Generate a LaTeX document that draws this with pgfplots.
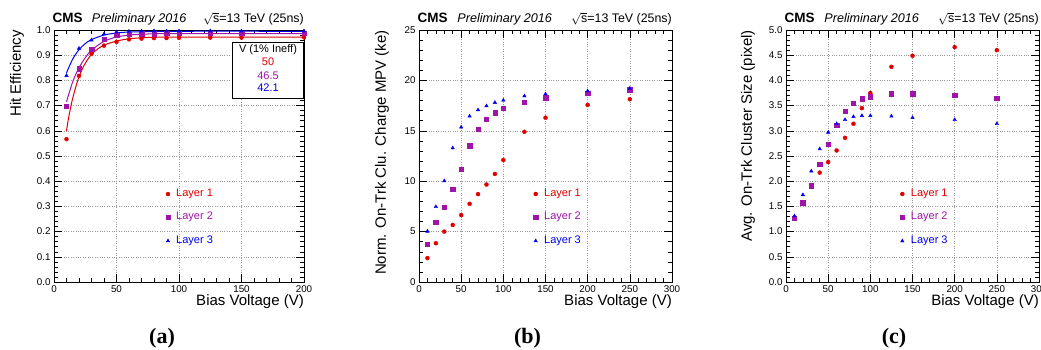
\documentclass[border=0pt]{standalone}
\usepackage{pgfplots}
\pgfplotsset{compat=1.18}
\usepackage{fontspec}
\setmainfont{Liberation Sans}
\newfontfamily\seriffont{Liberation Serif}
\definecolor{cred}{RGB}{225,0,0}
\definecolor{cpur}{RGB}{160,20,170}
\definecolor{cblue}{RGB}{0,0,240}

\tikzset{lay/.style={anchor=west, inner sep=0pt, font=\fontsize{11}{12}\selectfont}}
\pgfplotsset{
  rootstyle/.style={
    scale only axis, height=252pt,
    tick align=inside, major tick length=8pt, minor tick length=4pt,
    xtick pos=both, ytick pos=both,
    grid=major, grid style={dotted, gray!80, line width=0.5pt},
    tick label style={font=\fontsize{9.8}{10}\selectfont},
    /pgf/number format/assume math mode=true,
    label style={font=\fontsize{15}{16}\selectfont, inner sep=0pt},
    xlabel style={at={(axis description cs:1,-0.079)}, anchor=east},
    axis line style={line width=0.7pt},
    every tick/.style={black, line width=0.5pt},
    minor x tick num=4, minor y tick num=4,
    clip=false,
  },
  r/.style={only marks, mark=*, mark size=2pt, color=cred},
  p/.style={only marks, mark=square*, mark size=2.2pt, color=cpur},
  b/.style={only marks, mark=triangle*, mark size=2pt, color=cblue},
}
\newcommand{\cmshead}{%
  \node[inner sep=0pt, anchor=base west, font=\bfseries\fontsize{13.5}{14}\selectfont] at (axis description cs:-0.006,1.028) {CMS};
  \node[inner sep=0pt, anchor=base west, font=\itshape\fontsize{12.6}{13}\selectfont] at (axis description cs:0.151,1.028) {Preliminary 2016};
  \node[inner sep=0pt, anchor=base east, font=\fontsize{12.4}{13}\selectfont] at (axis description cs:1,1.028) {$\sqrt{\mbox{s}}$=13 TeV (25ns)};
}

\begin{document}
\begin{tikzpicture}
\useasboundingbox (0,0) rectangle (1041pt,349pt);

% ---------------- (a)
\begin{axis}[rootstyle, width=250pt, at={(54pt,67pt)}, anchor=south west,
  xmin=0, xmax=200, ymin=0, ymax=1,
  xtick={0,50,...,200}, ytick={0,0.1,...,1.0},
  yticklabel style={/pgf/number format/.cd, fixed, fixed zerofill, precision=1},
  xlabel={Bias Voltage (V)}, ylabel={Hit Efficiency},
  ylabel style={at={(axis description cs:-0.148,1)}, anchor=east},
]
\addplot[cred, line width=1pt, smooth] coordinates {(10,0.60) (12,0.66) (15,0.73) (20,0.815) (25,0.868) (30,0.903) (35,0.925) (40,0.940) (50,0.956) (60,0.965) (70,0.969) (80,0.971) (100,0.972) (200,0.972)};
\addplot[cpur, line width=1pt, smooth] coordinates {(10,0.715) (15,0.795) (20,0.85) (25,0.89) (30,0.92) (40,0.955) (50,0.972) (60,0.980) (70,0.983) (80,0.985) (100,0.986) (200,0.986)};
\addplot[cblue, line width=1pt, smooth] coordinates {(10,0.83) (15,0.885) (20,0.922) (25,0.946) (30,0.962) (40,0.980) (50,0.988) (60,0.992) (80,0.994) (100,0.995) (200,0.995)};
\addplot[r] coordinates {(10,0.567) (20,0.818) (30,0.906) (40,0.938) (50,0.953) (60,0.963) (70,0.966) (80,0.968) (90,0.968) (100,0.969) (125,0.970) (150,0.970) (200,0.971)};
\addplot[p] coordinates {(10,0.697) (20,0.847) (30,0.923) (40,0.963) (50,0.979) (60,0.984) (70,0.986) (80,0.986) (90,0.987) (100,0.987) (125,0.987) (150,0.987) (200,0.987)};
\addplot[b] coordinates {(10,0.819) (20,0.927) (30,0.960) (40,0.984) (50,0.992) (60,0.995) (70,0.996) (80,0.996) (90,0.996) (100,0.996) (125,0.996) (150,0.996) (200,0.996)};
\addplot[r] coordinates {(91.2,0.349)};
\addplot[p] coordinates {(91.2,0.258)};
\addplot[b] coordinates {(91.2,0.163)};
\node[lay, text=cred] at (axis cs:97.6,0.349) {Layer 1};
\node[lay, text=cpur] at (axis cs:97.6,0.258) {Layer 2};
\node[lay, text=cblue] at (axis cs:97.6,0.163) {Layer 3};
\draw[fill=white, line width=0.5pt] (axis description cs:0.712,0.730) rectangle (axis description cs:0.996,0.952);
\node[font=\fontsize{11}{12}\selectfont] at (axis description cs:0.856,0.921) {V (1\% Ineff)};
\node[text=cred, font=\fontsize{11}{12}\selectfont] at (axis description cs:0.856,0.873) {50};
\node[text=cpur, font=\fontsize{11}{12}\selectfont] at (axis description cs:0.856,0.817) {46.5};
\node[text=cblue, font=\fontsize{11}{12}\selectfont] at (axis description cs:0.856,0.770) {42.1};
\cmshead
\end{axis}

% ---------------- (b)
\begin{axis}[rootstyle, width=253pt, at={(419pt,67pt)}, anchor=south west,
  xmin=0, xmax=300, ymin=0, ymax=25,
  xtick={0,50,...,300}, ytick={0,5,...,25},
  xlabel={Bias Voltage (V)}, ylabel={Norm. On-Trk Clu. Charge MPV (ke)},
  ylabel style={at={(axis description cs:-0.146,1)}, anchor=east},
]
\addplot[r] coordinates {(10,2.37) (20,3.85) (30,5.0) (40,5.66) (50,6.64) (60,7.76) (70,8.72) (80,9.67) (90,10.72) (100,12.1) (125,14.9) (150,16.3) (200,17.57) (250,18.13)};
\addplot[p] coordinates {(10,3.75) (20,5.95) (30,7.4) (40,9.18) (50,11.18) (60,13.52) (70,15.16) (80,16.18) (90,16.78) (100,17.24) (125,17.86) (150,18.29) (200,18.72) (250,19.08)};
\addplot[b] coordinates {(10,5.03) (20,7.47) (30,10.03) (40,13.29) (50,15.36) (60,16.45) (70,17.07) (80,17.47) (90,17.8) (100,18.03) (125,18.45) (150,18.65) (200,18.95) (250,19.21)};
\addplot[r] coordinates {(138.4,8.73)};
\addplot[p] coordinates {(138.4,6.45)};
\addplot[b] coordinates {(138.4,4.07)};
\node[lay, text=cred] at (axis cs:148.2,8.73) {Layer 1};
\node[lay, text=cpur] at (axis cs:148.2,6.45) {Layer 2};
\node[lay, text=cblue] at (axis cs:148.2,4.07) {Layer 3};
\cmshead
\end{axis}

% ---------------- (c)
\begin{axis}[rootstyle, width=253pt, at={(786pt,67pt)}, anchor=south west,
  xmin=0, xmax=300, ymin=0, ymax=5,
  xtick={0,50,...,300}, ytick={0,0.5,...,5.0},
  yticklabel style={/pgf/number format/.cd, fixed, fixed zerofill, precision=1},
  xlabel={Bias Voltage (V)}, ylabel={Avg. On-Trk Cluster Size (pixel)},
  ylabel style={at={(axis description cs:-0.150,1)}, anchor=east},
]
\addplot[r] coordinates {(10,1.27) (20,1.58) (30,1.92) (40,2.17) (50,2.38) (60,2.61) (70,2.86) (80,3.14) (90,3.45) (100,3.75) (125,4.27) (150,4.49) (200,4.66) (250,4.60)};
\addplot[p] coordinates {(10,1.26) (20,1.57) (30,1.91) (40,2.34) (50,2.74) (60,3.11) (70,3.39) (80,3.55) (90,3.64) (100,3.68) (125,3.74) (150,3.74) (200,3.71) (250,3.65)};
\addplot[b] coordinates {(10,1.31) (20,1.73) (30,2.2) (40,2.64) (50,2.97) (60,3.14) (70,3.22) (80,3.28) (90,3.30) (100,3.30) (125,3.29) (150,3.26) (200,3.22) (250,3.14)};
\addplot[r] coordinates {(137.9,1.746)};
\addplot[p] coordinates {(137.9,1.29)};
\addplot[b] coordinates {(137.9,0.813)};
\node[lay, text=cred] at (axis cs:147.9,1.746) {Layer 1};
\node[lay, text=cpur] at (axis cs:147.9,1.29) {Layer 2};
\node[lay, text=cblue] at (axis cs:147.9,0.813) {Layer 3};
\cmshead
\end{axis}

\node[font=\seriffont\bfseries\fontsize{22}{24}\selectfont] at (162pt,11pt) {(a)};
\node[font=\seriffont\bfseries\fontsize{22}{24}\selectfont] at (527.5pt,11pt) {(b)};
\node[font=\seriffont\bfseries\fontsize{22}{24}\selectfont] at (894pt,11pt) {(c)};
\end{tikzpicture}
\end{document}
